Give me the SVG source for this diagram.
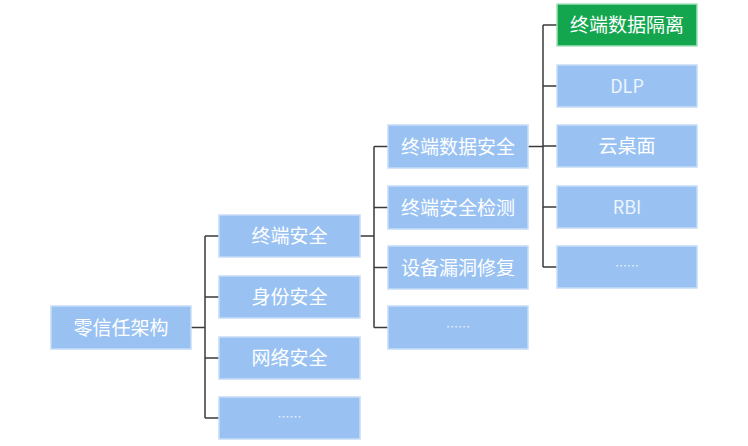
<svg xmlns="http://www.w3.org/2000/svg" width="748" height="446" viewBox="0 0 748 446">
<style>
.box{fill:#99c2f3;stroke:#c6dcf8;stroke-width:1.5}
.hi{fill:#14a64e;stroke:#a3e2bd;stroke-width:1.5}
.t{font-family:"Noto Sans CJK SC","Noto Sans",sans-serif;font-size:19px;fill:#ffffff;text-anchor:middle}
.lat{font-size:18px;fill:#eef5fd}
.dots{font-size:12px;fill:#eef5fd}
.c{fill:none;stroke:#3a3a3a;stroke-width:1.5}
</style>
<rect width="748" height="446" fill="#ffffff"/>
<g id="connectors">
<path class="c" d="M191,327.5H205M205,236V418M205,236H219M205,297H219M205,358H219M205,418H219"/>
<path class="c" d="M360,236H374M374,146.5V327.5M374,146.5H388M374,207.5H388M374,267.5H388M374,327.5H388"/>
<path class="c" d="M528,146.5H543M543,25V267M543,25H557M543,86H557M543,146H557M543,207H557M543,267H557"/>
</g>
<g id="root"><rect class="box" x="51" y="306" width="140" height="43"/><text class="t" x="121" y="334.5">零信任架构</text></g>
<g id="n-endpoint"><rect class="box" x="219" y="215" width="141" height="42"/><text class="t" x="289.5" y="243">终端安全</text></g>
<g id="n-identity"><rect class="box" x="219" y="276" width="141" height="42"/><text class="t" x="289.5" y="304">身份安全</text></g>
<g id="n-network"><rect class="box" x="219" y="337" width="141" height="42"/><text class="t" x="289.5" y="365">网络安全</text></g>
<g id="n-more1"><rect class="box" x="219" y="397" width="141" height="42"/><text class="t dots" x="289.5" y="422">……</text></g>
<g id="n-data"><rect class="box" x="388" y="125" width="140" height="43"/><text class="t" x="458" y="153.5">终端数据安全</text></g>
<g id="n-detect"><rect class="box" x="388" y="186" width="140" height="43"/><text class="t" x="458" y="214.5">终端安全检测</text></g>
<g id="n-patch"><rect class="box" x="388" y="246" width="140" height="43"/><text class="t" x="458" y="274.5">设备漏洞修复</text></g>
<g id="n-more2"><rect class="box" x="388" y="306" width="140" height="43"/><text class="t dots" x="458" y="331.5">……</text></g>
<g id="n-isolate"><rect class="hi" x="557" y="4" width="140" height="42"/><text class="t" x="627" y="32">终端数据隔离</text></g>
<g id="n-dlp"><rect class="box" x="557" y="65" width="140" height="42"/><text class="t lat" x="627" y="92.5">DLP</text></g>
<g id="n-vdi"><rect class="box" x="557" y="125" width="140" height="42"/><text class="t" x="627" y="153">云桌面</text></g>
<g id="n-rbi"><rect class="box" x="557" y="186" width="140" height="42"/><text class="t lat" x="627" y="213.5">RBI</text></g>
<g id="n-more3"><rect class="box" x="557" y="246" width="140" height="42"/><text class="t dots" x="627" y="271">……</text></g>
</svg>
